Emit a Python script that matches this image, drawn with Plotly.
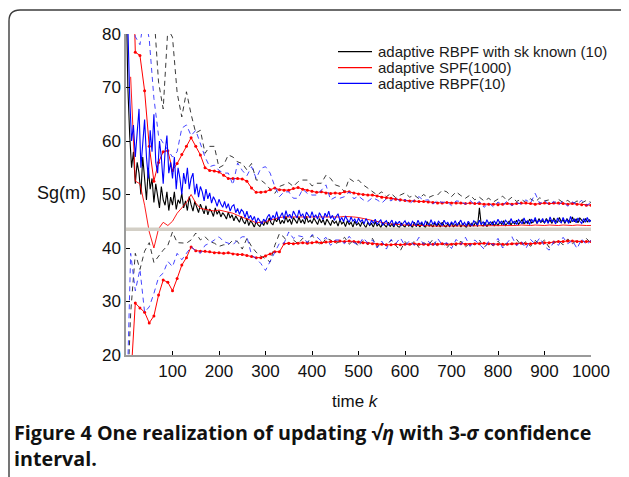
import plotly.graph_objects as go

# ---------------- data ----------------
SERIES_NAMES = ["adaptive RBPF with sk known (10)", "adaptive SPF(1000)", "adaptive RBPF(10)"]
TRUE_SG = 43.5
X_TICKS = [100, 200, 300, 400, 500, 600, 700, 800, 900, 1000]
Y_TICKS = [20, 30, 40, 50, 60, 70, 80]

# time index of the per-step estimates (every 4th step shown)
K_MEAN = list(range(0, 1001, 4))
RBPF_MEAN = [
    95, 80, 68, 60, 63, 57, 61, 66, 55, 59, 64, 57, 53, 62, 58, 65, 56, 54, 60, 57, 52, 58, 61, 54, 56,
    53, 57, 51, 55, 53, 50, 54, 52, 55, 51, 53, 54, 50, 52, 49.5, 51.5, 50.5, 48.8, 51, 49.2, 50.3, 48.4, 49.6, 48.9, 47.8,
    49.1, 48.2, 47.6, 48.7, 47.4, 48.3, 46.9, 47.8, 48.1, 46.6, 47.4, 46.3, 47.2, 46.8, 45.7, 46.9, 45.5, 46.1, 45.2, 45.9, 44.7, 45.6, 45.1, 44.5, 45.4,
    44.9, 45.8, 46.3, 45.2, 46.1, 45.5, 46.8, 45.3, 45.9, 46.6, 45.4, 47.0, 45.8, 46.3, 45.5, 46.9, 46.2, 45.6, 47.1, 45.9, 46.4, 45.4, 46.7, 46.0, 45.6,
    46.8, 45.7, 46.2, 45.4, 46.6, 45.9, 45.3, 46.5, 45.8, 46.9, 45.5, 46.1, 45.2, 45.9, 46.4, 45.1, 45.7, 44.9, 46.0, 45.3, 44.8, 45.8, 45.0, 45.4, 44.6,
    45.6, 44.9, 45.3, 44.5, 45.5, 44.8, 44.3, 45.2, 44.6, 45.4, 44.4, 44.9, 45.3, 44.2, 44.8, 45.1, 44.3, 44.7, 45.2, 44.1, 44.9, 44.5, 45.0, 44.2, 44.7,
    45.1, 44.3, 44.8, 44.1, 45.0, 44.6, 44.2, 45.2, 44.4, 44.9, 44.1, 45.1, 44.5, 44.3, 45.3, 44.4, 44.9, 44.2, 45.0, 44.6, 44.2, 45.2, 44.5, 44.8, 44.1,
    44.9, 44.4, 45.1, 44.2, 44.7, 45.2, 44.3, 44.8, 44.1, 45.0, 44.5, 44.2, 45.1, 44.6, 44.3, 45.2, 44.4, 44.9, 44.2, 45.3, 44.6, 44.9, 44.3, 45.1, 44.5,
    45.4, 44.6, 45.0, 44.3, 45.2, 44.8, 44.4, 45.5, 44.7, 45.0, 44.4, 45.3, 44.9, 44.5, 45.6, 44.7, 45.1, 44.4, 45.4, 44.8, 45.7, 44.6, 45.2, 44.9, 45.5,
    44.7, 45.3, 44.6, 45.8, 44.9, 45.2, 44.5, 45.6, 45.0, 44.7, 45.7, 44.8, 45.3, 44.6, 45.9, 44.9, 45.4, 44.7, 45.6, 45.0, 44.6, 45.5, 44.8, 45.7, 44.9,
    45.2,
]
SKKNOWN_MEAN = [
    90, 70, 61, 55, 58, 52, 56, 54, 50, 57, 53, 49, 55, 51, 53, 48.5, 52, 50, 47.5, 51.5, 49, 48, 50.5, 47, 49.5,
    48, 50.5, 47.2, 49, 48.3, 50.2, 47.5, 48.8, 47, 49.6, 48.1, 46.9, 48.7, 47.4, 46.6, 48.2, 47.1, 46.4, 47.9, 46.2, 47.3, 46.8, 45.9, 47.5, 46.3,
    47.0, 45.8, 46.6, 46.1, 45.4, 46.7, 45.6, 46.2, 45.1, 46.0, 45.5, 44.8, 45.9, 45.0, 44.5, 45.6, 44.2, 45.1, 44.6, 43.9, 45.0, 44.3, 44.0, 44.9, 44.2,
    45.1, 44.4, 45.6, 44.7, 44.3, 45.5, 44.9, 45.8, 44.5, 45.2, 44.6, 45.9, 44.8, 45.4, 44.4, 45.7, 45.0, 44.6, 45.8, 44.7, 45.3, 44.5, 45.9, 44.8, 45.2,
    44.6, 45.6, 44.9, 44.4, 45.5, 44.7, 45.3, 44.3, 45.4, 44.8, 44.2, 45.2, 44.6, 45.0, 44.1, 45.3, 44.5, 44.9, 44.0, 45.1, 44.4, 44.8, 43.9, 45.0, 44.3,
    44.7, 44.0, 44.9, 44.3, 43.8, 44.8, 44.2, 44.6, 43.9, 44.9, 44.1, 44.5, 43.8, 44.7, 44.2, 43.9, 44.8, 44.0, 44.5, 43.9, 44.7, 44.1, 43.8, 44.6, 44.2,
    43.9, 44.7, 44.1, 44.4, 43.8, 44.8, 44.0, 44.5, 43.9, 44.6, 44.2, 43.8, 44.9, 44.1, 44.4, 43.9, 44.7, 44.0, 44.6, 43.9, 44.8, 44.2, 43.9, 44.5, 44.0,
    44.7, 43.9, 44.4, 44.1, 44.8, 43.9, 44.5, 44.2, 43.8, 44.7, 44.0, 44.6, 44.1, 44.9, 44.0, 47.5, 44.3, 44.1, 44.8, 44.0, 44.6, 44.3, 44.9, 44.1, 44.7,
    44.2, 44.9, 44.4, 45.1, 44.2, 44.7, 45.0, 44.3, 44.9, 44.5, 45.2, 44.4, 44.8, 45.3, 44.5, 45.0, 44.6, 45.4, 44.7, 44.9, 45.3, 44.6, 45.5, 44.8, 45.1,
    44.7, 45.5, 44.9, 45.2, 44.6, 45.6, 45.0, 44.8, 45.7, 44.9, 45.3, 44.6, 45.5, 45.0, 44.8, 45.8, 44.9, 45.4, 44.7, 45.6, 45.1, 44.8, 45.5, 44.9, 45.3,
    45.0,
]

# SPF(1000) estimate and 3-sigma bounds (every 10th step, marked)
K_SPF = list(range(10, 1001, 10))
SPF_UPPER = [
    110, 76.6, 76.0, 69.4, 59.0, 52.5, 56.0, 58.0, 58.2, 54.5,
    55.8, 57.5, 59.0, 60.6, 59.0, 57.4, 55.0, 54.5, 54.4, 54.2,
    53.6, 53.0, 53.0, 53.0, 52.9, 52.5, 51.2, 50.4, 50.4, 50.5,
    50.9, 51.2, 50.9, 50.8, 50.8, 51.1, 51.3, 51.0, 50.8, 50.6,
    50.4, 50.5, 50.3, 50.2, 50.3, 50.2, 50.5, 50.5, 50.3, 50.1,
    50.0, 49.9, 49.9, 49.7, 49.5, 49.4, 49.3, 49.1, 49.0, 48.9,
    48.8, 48.8, 48.7, 48.7, 48.6, 48.5, 48.4, 48.4, 48.5, 48.4,
    48.4, 48.4, 48.3, 48.4, 48.3, 48.3, 48.2, 48.2, 48.2, 48.1,
    48.2, 48.3, 48.2, 48.3, 48.4, 48.4, 48.3, 48.2, 48.3, 48.4,
    48.3, 48.4, 48.4, 48.3, 48.2, 48.3, 48.2, 48.1, 48.0, 48.0,
]
SPF_MEAN = [
    72, 52.5, 52.0, 48.0, 43.0, 40.0, 43.6, 44.8, 44.2, 45.0,
    46.5, 47.6, 48.5, 50.0, 48.4, 47.4, 47.2, 47.0, 46.9, 47.1,
    46.9, 46.8, 46.5, 46.1, 45.8, 45.4, 45.1, 44.7, 44.8, 44.9,
    45.2, 45.5, 45.7, 45.8, 45.8, 45.7, 45.8, 45.8, 45.7, 45.8,
    45.8, 45.7, 45.8, 45.7, 45.8, 45.8, 45.9, 45.9, 45.8, 45.7,
    45.5, 45.3, 45.1, 44.9, 44.7, 44.6, 44.5, 44.4, 44.4, 44.3,
    44.3, 44.2, 44.2, 44.2, 44.1, 44.1, 44.1, 44.1, 44.2, 44.1,
    44.1, 44.2, 44.1, 44.1, 44.2, 44.2, 44.1, 44.1, 44.2, 44.2,
    44.2, 44.1, 44.2, 44.2, 44.3, 44.2, 44.2, 44.3, 44.2, 44.2,
    44.3, 44.2, 44.2, 44.3, 44.2, 44.2, 44.3, 44.2, 44.2, 44.2,
]
SPF_LOWER = [
    15, 29.7, 28.8, 28.0, 26.0, 27.3, 31.2, 34.0, 33.6, 32.0,
    34.3, 36.8, 38.2, 40.2, 39.5, 39.4, 39.4, 39.3, 39.1, 39.1,
    39.0, 39.1, 38.9, 38.8, 38.8, 38.6, 38.4, 38.2, 38.2, 38.5,
    38.9, 39.3, 39.3, 40.8, 40.9, 40.8, 40.9, 41.0, 40.9, 41.0,
    41.1, 41.0, 41.1, 41.2, 41.2, 41.3, 41.2, 41.3, 41.2, 41.1,
    41.0, 40.9, 40.8, 40.7, 40.7, 40.6, 40.6, 40.7, 40.6, 40.7,
    40.7, 40.8, 40.7, 40.7, 40.6, 40.7, 40.7, 40.8, 40.7, 40.7,
    40.8, 40.8, 40.7, 40.7, 40.8, 40.8, 40.9, 40.8, 40.7, 40.7,
    40.7, 40.7, 40.8, 40.8, 40.9, 40.8, 40.8, 40.9, 40.9, 41.0,
    41.0, 41.1, 41.2, 41.2, 41.3, 41.3, 41.2, 41.2, 41.2, 41.2,
]

# 3-sigma bounds of the RBPF filters (every 10th step)
K_BOUND = list(range(0, 1001, 10))
SKKNOWN_UPPER = [
    120, 110, 100, 96, 92, 88, 84, 71, 66, 81,
    79.4, 69.0, 64.5, 69.2, 65.0, 61.5, 62.0, 57.7, 59.0, 59.0,
    55.0, 55.5, 57.4, 57.0, 56.1, 55.8, 54.6, 55.8, 52.7, 52.7,
    52.0, 51.0, 50.2, 51.5, 51.8, 52.2, 51.5, 52.4, 52.7, 52.7,
    51.6, 52.1, 52.1, 53.6, 53.0, 51.8, 51.5, 50.5, 53.0, 52.4,
    52.7, 51.8, 51.2, 50.6, 49.9, 50.5, 49.6, 50.2, 49.4, 49.9,
    50.3, 49.5, 49.9, 49.2, 50.0, 49.4, 49.8, 49.9, 50.8, 50.5,
    49.6, 50.5, 49.8, 49.3, 49.9, 49.0, 49.5, 48.8, 49.3, 48.6,
    49.2, 49.7, 48.8, 49.5, 48.7, 49.1, 48.5, 49.2, 48.6, 49.4,
    48.8, 49.0, 48.3, 49.1, 48.5, 48.9, 48.2, 48.8, 48.4, 48.9,
    48.5,
]
SKKNOWN_LOWER = [
    5, 27.8, 39.0, 36.0, 39.4, 41.0, 37.3, 38.5, 39.6, 40.5,
    43.0, 41.0, 40.9, 40.9, 41.5, 42.8, 41.5, 42.1, 41.2, 40.9,
    40.3, 40.6, 40.6, 41.5, 41.2, 39.8, 41.8, 40.3, 39.2, 38.5,
    38.0, 37.4, 40.5, 42.7, 42.0, 40.6, 41.5, 40.8, 41.8, 40.9,
    42.4, 41.2, 40.5, 41.8, 41.5, 40.8, 41.2, 42.0, 40.7, 41.5,
    40.3, 41.4, 40.6, 41.8, 40.2, 41.0, 40.4, 41.5, 40.5, 39.5,
    41.2, 40.3, 41.3, 40.1, 41.0, 40.5, 41.6, 40.3, 40.9, 40.0,
    41.1, 40.4, 41.3, 40.2, 40.9, 40.6, 41.5, 40.1, 41.0, 40.4,
    41.3, 40.2, 41.1, 40.6, 41.6, 40.5, 41.2, 40.3, 41.4, 40.7,
    41.5, 40.1, 40.9, 41.4, 40.6, 41.7, 40.8, 41.5, 41.0, 41.8,
    40.9,
]
RBPF_UPPER = [
    110, 90, 79.5, 78.0, 84.0, 79.0, 68.0, 61.0, 59.6, 58.3,
    57.0, 58.0, 62.4, 63.0, 61.0, 62.0, 59.6, 57.0, 55.2, 55.5,
    54.5, 54.0, 54.0, 51.8, 55.9, 54.5, 53.5, 55.2, 53.0, 54.9,
    55.2, 54.0, 51.5, 49.6, 50.5, 50.5, 49.3, 49.3, 51.0, 50.2,
    49.9, 49.9, 50.8, 51.8, 49.0, 49.5, 49.3, 49.6, 50.5, 49.2,
    49.7, 49.0, 48.7, 49.4, 49.0, 48.4, 49.2, 48.8, 49.5, 48.6,
    49.1, 48.3, 49.0, 49.6, 48.9, 49.0, 48.2, 48.9, 48.5, 48.7,
    47.9, 48.8, 48.7, 48.2, 48.9, 48.1, 48.7, 47.6, 48.4, 47.7,
    48.6, 48.0, 48.8, 47.9, 48.5, 48.2, 49.0, 48.4, 50.2, 48.3,
    48.9, 48.1, 48.7, 48.0, 48.8, 47.8, 48.6, 48.2, 48.9, 48.0,
    48.4,
]
RBPF_LOWER = [
    5, 39.0, 32.0, 36.0, 28.0, 29.0, 31.5, 34.5, 35.3, 37.5,
    36.5, 39.0, 37.8, 39.0, 40.2, 39.5, 39.0, 40.5, 40.9, 41.5,
    42.1, 41.2, 40.9, 40.6, 41.5, 42.1, 42.1, 38.7, 38.0, 37.1,
    35.8, 37.5, 39.5, 40.9, 40.9, 43.0, 41.8, 42.3, 42.1, 41.0,
    42.5, 42.1, 41.3, 42.0, 40.5, 41.5, 41.5, 40.8, 42.2, 41.0,
    40.5, 41.9, 40.9, 41.5, 40.0, 41.3, 39.8, 41.6, 40.8, 41.9,
    40.4, 41.4, 40.5, 42.0, 40.7, 41.3, 40.2, 41.8, 40.6, 41.0,
    39.9, 41.6, 40.6, 42.0, 40.3, 41.5, 40.7, 39.8, 41.3, 40.5,
    41.8, 40.0, 41.0, 42.1, 40.4, 41.3, 39.9, 41.6, 40.7, 41.9,
    40.3, 39.6, 41.2, 40.5, 42.0, 40.8, 41.4, 39.9, 41.7, 40.6,
    41.4,
]

# ---------------- layout geometry ----------------
# the page body has an 8px margin, so the figure is drawn 8px smaller and
# all reference-pixel positions are shifted by that offset
OFF = 8
W, H = 629 - OFF, 477 - OFF
ML = 126 - OFF
MT = 34 - OFF
MR = W - (591 - OFF)
MB = H - (355 - OFF)
PW, PH = W - ML - MR, H - MT - MB


def px(x):
    """reference-screenshot x pixel -> paper coordinate"""
    return (x - OFF - ML) / PW


def py(y):
    """reference-screenshot y pixel -> paper coordinate"""
    return (H - MB - (y - OFF)) / PH


BLACK = "#000000"
RED = "#ff0000"
BLUE = "#0000ff"
DASH = "5px,4px"

fig = go.Figure()

# sk-known RBPF
fig.add_trace(go.Scatter(x=K_BOUND, y=SKKNOWN_UPPER, mode="lines", showlegend=False,
                         line=dict(color="#222222", width=0.9, dash=DASH)))
fig.add_trace(go.Scatter(x=K_BOUND, y=SKKNOWN_LOWER, mode="lines", showlegend=False,
                         line=dict(color="#222222", width=0.9, dash=DASH)))
fig.add_trace(go.Scatter(x=K_MEAN[:len(SKKNOWN_MEAN)], y=SKKNOWN_MEAN, mode="lines", name=SERIES_NAMES[0],
                         showlegend=False, line=dict(color=BLACK, width=1.1)))
# SPF
fig.add_trace(go.Scatter(x=K_SPF, y=SPF_MEAN, mode="lines", name=SERIES_NAMES[1], showlegend=False,
                         line=dict(color=RED, width=0.9)))
fig.add_trace(go.Scatter(x=K_SPF, y=SPF_UPPER, mode="lines+markers", showlegend=False,
                         line=dict(color=RED, width=1), marker=dict(color=RED, size=3)))
fig.add_trace(go.Scatter(x=K_SPF, y=SPF_LOWER, mode="lines+markers", showlegend=False,
                         line=dict(color=RED, width=1), marker=dict(color=RED, size=3)))
# RBPF
fig.add_trace(go.Scatter(x=K_BOUND, y=RBPF_UPPER, mode="lines", showlegend=False,
                         line=dict(color="#3030ff", width=0.9, dash=DASH)))
fig.add_trace(go.Scatter(x=K_BOUND, y=RBPF_LOWER, mode="lines", showlegend=False,
                         line=dict(color="#3030ff", width=0.9, dash=DASH)))
fig.add_trace(go.Scatter(x=K_MEAN[:len(RBPF_MEAN)], y=RBPF_MEAN, mode="lines", name=SERIES_NAMES[2],
                         showlegend=False, line=dict(color=BLUE, width=1.1)))
# true value
fig.add_trace(go.Scatter(x=[0, 1000], y=[TRUE_SG, TRUE_SG], mode="lines", showlegend=False,
                         line=dict(color="#d3cfc6", width=3.5)))

shapes = []
annotations = []

# manual legend
LEG_COLORS = [BLACK, RED, BLUE]
LEG_Y = [51.7, 67.7, 83.3]
for name, col, yy in zip(SERIES_NAMES, LEG_COLORS, LEG_Y):
    shapes.append(dict(type="line", xref="paper", yref="paper", x0=px(338), x1=px(372),
                       y0=py(yy), y1=py(yy), line=dict(color=col, width=1.2)))
    annotations.append(dict(text=name, xref="paper", yref="paper", x=px(376), y=py(yy),
                            xanchor="left", yanchor="middle", showarrow=False,
                            font=dict(family="Liberation Sans, Arial", size=15, color="#1a1a1a")))

# rounded frame of the figure box
r = 11
frame = (f"M {px(9)},{py(490)} L {px(9)},{py(10 + r)} Q {px(9)},{py(10)} {px(9 + r)},{py(10)} "
         f"L {px(640)},{py(10)}")
shapes.append(dict(type="path", xref="paper", yref="paper", path=frame,
                   line=dict(color="#3c3c3c", width=1.4)))

# axis titles
annotations.append(dict(text="Sg(m)", xref="paper", yref="paper", x=px(61.5), y=py(193),
                        xanchor="center", yanchor="middle", showarrow=False,
                        font=dict(family="Liberation Sans, Arial", size=18, color="#111111")))
annotations.append(dict(text="time <i>k</i>", xref="paper", yref="paper", x=px(355.5), y=py(401),
                        xanchor="center", yanchor="middle", showarrow=False,
                        font=dict(family="Liberation Sans, Arial", size=17, color="#111111")))
# caption
annotations.append(dict(text="<b>Figure 4 One realization of updating √<i>η</i> with 3-<i>σ</i> confidence</b>",
                        xref="paper", yref="paper", x=px(12), y=py(432), xanchor="left", yanchor="middle",
                        showarrow=False, font=dict(family="Open Sans", size=19.7, color="#111111")))
annotations.append(dict(text="<b>interval.</b>",
                        xref="paper", yref="paper", x=px(12), y=py(458), xanchor="left", yanchor="middle",
                        showarrow=False, font=dict(family="Open Sans", size=19.7, color="#111111")))

axis_common = dict(showgrid=False, zeroline=False, showline=True, linecolor="#9a9a9a", linewidth=1.5,
                   ticks="inside", ticklen=4, tickwidth=1, tickcolor="#000000",
                   tickfont=dict(family="Liberation Sans, Arial", size=17, color="#111111"))

fig.update_layout(
    width=W, height=H,
    margin=dict(l=ML, r=MR, t=MT, b=MB, pad=0),
    paper_bgcolor="white", plot_bgcolor="white",
    showlegend=False,
    xaxis=dict(range=[0, 1000], tickvals=X_TICKS, **axis_common),
    yaxis=dict(range=[20, 80], tickvals=Y_TICKS, **axis_common),
    shapes=shapes, annotations=annotations,
)

fig.write_html("out.html")
